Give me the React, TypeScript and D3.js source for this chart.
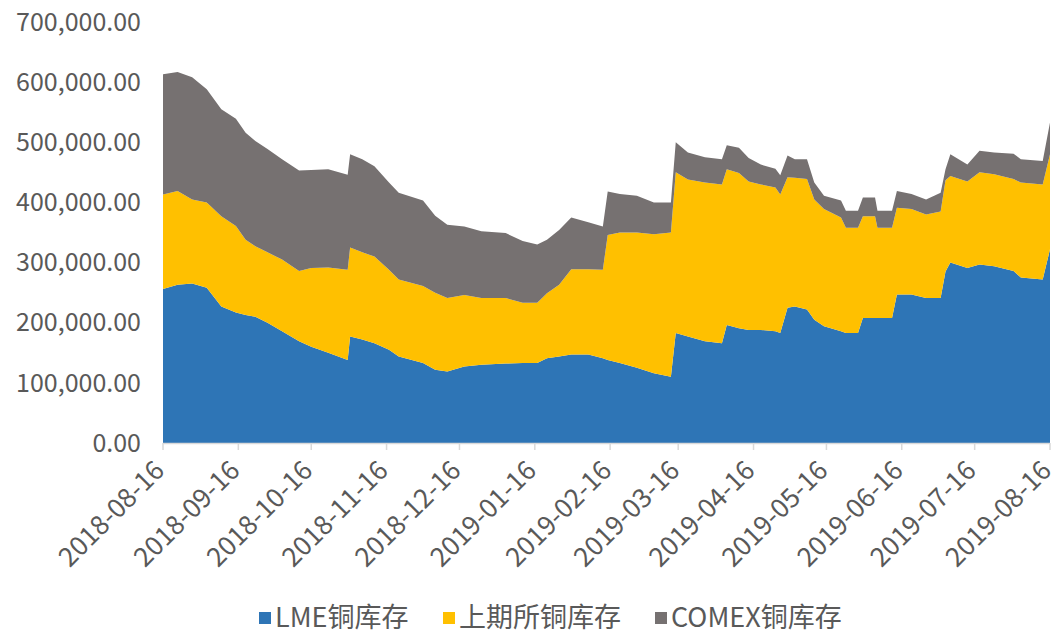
import * as React from 'react';
import * as d3 from 'd3';

// 日期 + 三个交易所铜库存（吨）
const dates = [
  '2018-08-16', '2018-08-22', '2018-08-28', '2018-09-03', '2018-09-09', '2018-09-15',
  '2018-09-19', '2018-09-23', '2018-09-28', '2018-10-04', '2018-10-11', '2018-10-16',
  '2018-10-23', '2018-10-31', '2018-11-01', '2018-11-06', '2018-11-11', '2018-11-17',
  '2018-11-21', '2018-12-01', '2018-12-06', '2018-12-11', '2018-12-18', '2018-12-25',
  '2019-01-04', '2019-01-11', '2019-01-17', '2019-01-21', '2019-01-26', '2019-01-31',
  '2019-02-07', '2019-02-13', '2019-02-15', '2019-02-20', '2019-02-27', '2019-03-06',
  '2019-03-13', '2019-03-15', '2019-03-20', '2019-03-27', '2019-04-03', '2019-04-05',
  '2019-04-10', '2019-04-14', '2019-04-19', '2019-04-25', '2019-04-27', '2019-04-30',
  '2019-05-03', '2019-05-08', '2019-05-11', '2019-05-15', '2019-05-22', '2019-05-24',
  '2019-05-29', '2019-05-31', '2019-06-05', '2019-06-06', '2019-06-12', '2019-06-14',
  '2019-06-20', '2019-06-26', '2019-07-02', '2019-07-04', '2019-07-06', '2019-07-13',
  '2019-07-18', '2019-07-24', '2019-08-01', '2019-08-04', '2019-08-13', '2019-08-16',
];

const lme = [
  256000, 263000, 265000, 258000, 227000, 217000, 213000, 210000, 200000, 186000, 169000, 160000,
  150000, 138000, 177000, 172000, 166000, 155000, 144000, 133000, 122000, 119000, 127000, 130000,
  132000, 133000, 133000, 141000, 144000, 147000, 147000, 141000, 138000, 133000, 125000, 116000,
  110000, 183000, 177000, 169000, 166000, 196000, 191000, 188000, 188000, 186000, 183000, 225000,
  227000, 222000, 205000, 194000, 186000, 183000, 183000, 208000, 208000, 208000, 208000, 247000,
  247000, 241000, 241000, 285000, 300000, 291000, 297000, 294000, 286000, 275000, 272000, 322000,
];

const shfe = [
  157000, 156000, 140000, 142000, 150000, 144000, 125000, 117000, 117000, 119000, 117000, 131000,
  142000, 150000, 148000, 145000, 144000, 133000, 128000, 128000, 128000, 122000, 119000, 111000,
  109000, 100000, 100000, 108000, 119000, 142000, 142000, 147000, 208000, 217000, 225000, 231000,
  240000, 267000, 261000, 264000, 264000, 259000, 258000, 247000, 242000, 239000, 230000, 217000,
  214000, 217000, 200000, 195000, 189000, 175000, 175000, 169000, 169000, 150000, 150000, 144000,
  142000, 139000, 144000, 152000, 144000, 144000, 153000, 153000, 153000, 158000, 158000, 158000,
];

const comex = [
  200000, 198000, 203000, 188000, 178000, 178000, 178000, 175000, 172000, 167000, 167000, 163000,
  163000, 158000, 155000, 155000, 150000, 145000, 144000, 142000, 128000, 122000, 114000, 111000,
  108000, 103000, 97000, 89000, 91000, 86000, 78000, 72000, 72000, 64000, 61000, 53000,
  50000, 50000, 45000, 42000, 42000, 40000, 42000, 39000, 33000, 31000, 32000, 36000,
  31000, 33000, 28000, 22000, 28000, 28000, 28000, 31000, 31000, 28000, 28000, 28000,
  25000, 25000, 31000, 18000, 36000, 28000, 36000, 36000, 42000, 39000, 39000, 53000,
];

const seriesNames = ['LME铜库存', '上期所铜库存', 'COMEX铜库存'];
const seriesColors = ['#2E75B6', '#FFC000', '#767171'];
const yTicks = [0, 100000, 200000, 300000, 400000, 500000, 600000, 700000];
const xTickLabels = [
  '2018-08-16', '2018-09-16', '2018-10-16', '2018-11-16', '2018-12-16', '2019-01-16',
  '2019-02-16', '2019-03-16', '2019-04-16', '2019-05-16', '2019-06-16', '2019-07-16', '2019-08-16',
];

const FONT = "'Microsoft YaHei', 'Noto Sans CJK SC', sans-serif";
const TEXT = '#595959';

export default function App() {
  const svgRef = React.useRef<SVGSVGElement>(null);
  const width = 1059;
  const height = 637;

  React.useEffect(() => {
    document.body.style.margin = '0';
    if (!svgRef.current) return;
    const svg = d3.select(svgRef.current);
    svg.selectAll('*').remove();

    const parse = d3.timeParse('%Y-%m-%d');
    const rows = dates.map((d, i) => ({ date: parse(d) as Date, a: lme[i], b: shfe[i], c: comex[i] }));

    const x = d3
      .scaleTime()
      .domain([parse(xTickLabels[0]) as Date, parse(xTickLabels[xTickLabels.length - 1]) as Date])
      .range([163, 1050]);
    const y = d3.scaleLinear().domain([0, 700000]).range([443, 22]);

    const stack = d3.stack<any>().keys(['a', 'b', 'c']);
    const layers = stack(rows);

    const area = d3
      .area<any>()
      .x((d) => x(d.data.date))
      .y0((d) => y(d[0]))
      .y1((d) => y(d[1]));

    svg
      .append('g')
      .selectAll('path')
      .data(layers)
      .enter()
      .append('path')
      .attr('d', area as any)
      .attr('fill', (_, i) => seriesColors[i]);

    // y axis labels
    const fmt = d3.format(',.2f');
    svg
      .append('g')
      .selectAll('text')
      .data(yTicks)
      .enter()
      .append('text')
      .attr('x', 141)
      .attr('y', (d) => y(d))
      .attr('dy', '0.35em')
      .attr('text-anchor', 'end')
      .style('font-family', FONT)
      .style('font-size', '25px')
      .attr('fill', TEXT)
      .text((d) => fmt(d));

    // x axis
    const xAxisG = svg.append('g');
    xAxisG
      .append('line')
      .attr('x1', x.range()[0])
      .attr('x2', x.range()[1])
      .attr('y1', 443.5)
      .attr('y2', 443.5)
      .attr('stroke', '#D9D9D9')
      .attr('stroke-width', 1.5);
    const tickDates = xTickLabels.map((s) => parse(s) as Date);
    xAxisG
      .selectAll('line.tick')
      .data(tickDates)
      .enter()
      .append('line')
      .attr('class', 'tick')
      .attr('x1', (d) => x(d))
      .attr('x2', (d) => x(d))
      .attr('y1', 443)
      .attr('y2', 450)
      .attr('stroke', '#D9D9D9')
      .attr('stroke-width', 1.5);
    xAxisG
      .selectAll('text')
      .data(tickDates)
      .enter()
      .append('text')
      .attr('transform', (d) => `translate(${x(d) + 3}, 472) rotate(-45)`)
      .attr('text-anchor', 'end')
      .style('font-family', FONT)
      .style('font-size', '26.5px')
      .attr('fill', TEXT)
      .text((_, i) => xTickLabels[i]);

    // legend
    const legendX = [259, 443, 655];
    const legend = svg
      .append('g')
      .selectAll('g')
      .data(seriesNames)
      .enter()
      .append('g')
      .attr('transform', (_, i) => `translate(${legendX[i]}, 618)`);
    legend
      .append('rect')
      .attr('x', 0)
      .attr('y', -6)
      .attr('width', 12)
      .attr('height', 12)
      .attr('fill', (_, i) => seriesColors[i]);
    legend
      .append('text')
      .attr('x', 16)
      .attr('dy', '0.35em')
      .style('font-family', FONT)
      .style('font-size', '27px')
      .attr('fill', TEXT)
      .text((d) => d);
  }, []);

  return <svg ref={svgRef} width={width} height={height} style={{ display: 'block', background: '#fff' }} />;
}
